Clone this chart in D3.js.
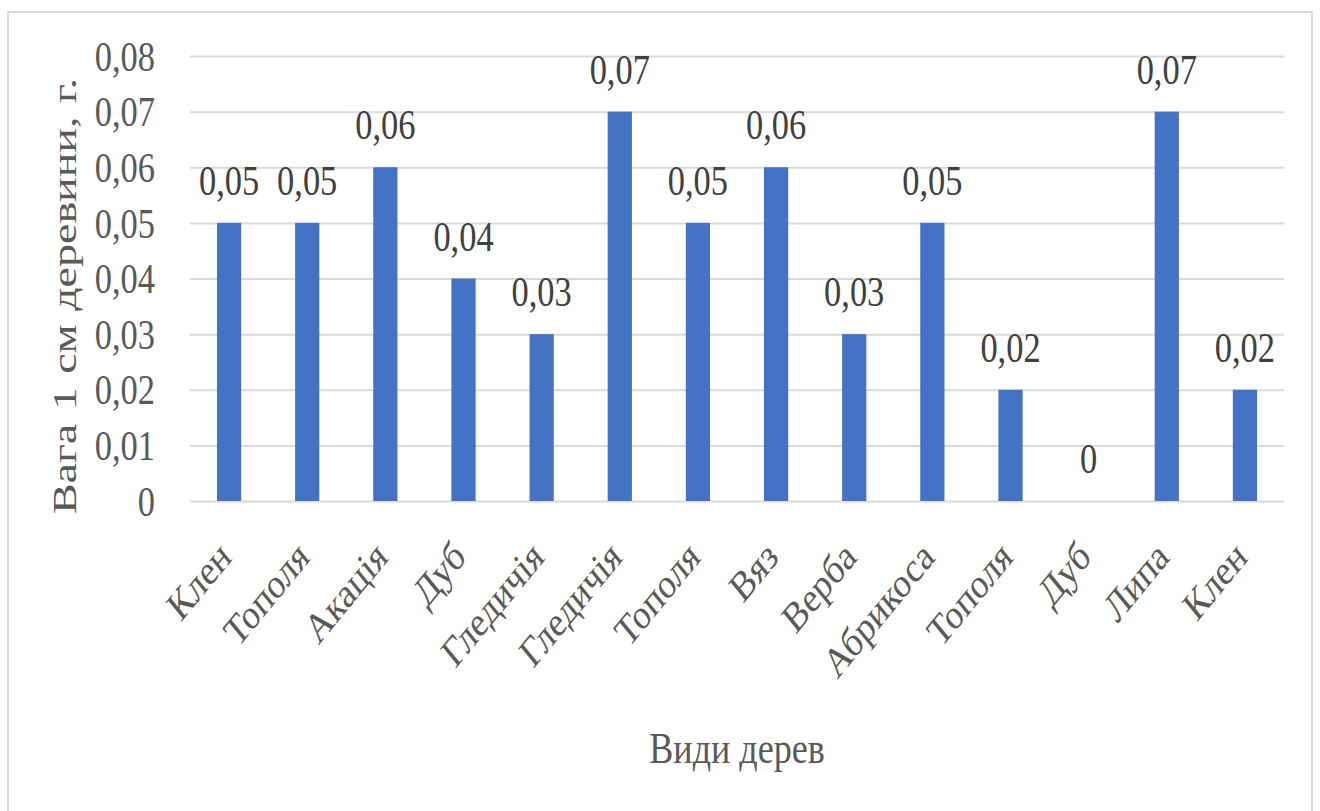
<!DOCTYPE html>
<html>
<head>
<meta charset="utf-8">
<script src="https://cdn.jsdelivr.net/npm/d3@7"></script>
<style>
  html, body { margin: 0; padding: 0; background: #fff; }
  svg { display: block; }
</style>
</head>
<body>
<svg id="chart" width="1320" height="811"></svg>
<script>
// Wood weight per 1 cm by tree species
const categories = ["Клен", "Тополя", "Акація", "Дуб", "Гледичія", "Гледичія", "Тополя",
                    "Вяз", "Верба", "Абрикоса", "Тополя", "Дуб", "Липа", "Клен"];
const values = [0.05, 0.05, 0.06, 0.04, 0.03, 0.07, 0.05, 0.06, 0.03, 0.05, 0.02, 0, 0.07, 0.02];
const yTicks = [0, 0.01, 0.02, 0.03, 0.04, 0.05, 0.06, 0.07, 0.08];
const yTitle = "Вага 1 см деревини, г.";
const xTitle = "Види дерев";

const W = 1320, H = 811;
const FONT = "'Liberation Serif', 'Times New Roman', Times, 'DejaVu Serif', serif";
const sx = 0.82; // narrow glyph width used for all labels
const margin = { left: 190, right: 36, top: 56, bottom: 310 };
const fmt = v => String(+v.toFixed(2)).replace(".", ",");

const svg = d3.select("#chart").style("font-family", FONT);

// chart frame
svg.append("rect")
  .attr("x", 8).attr("y", 12)
  .attr("width", 1304).attr("height", 820)
  .attr("fill", "#fff")
  .attr("stroke", "#d9d9d9").attr("stroke-width", 2);

const x = d3.scaleBand()
  .domain(d3.range(categories.length))
  .range([margin.left, W - margin.right])
  .paddingInner(0.69).paddingOuter(0.345);

const y = d3.scaleLinear()
  .domain([0, 0.08])
  .range([H - margin.bottom, margin.top]);

// gridlines and y tick labels
const yAxis = d3.axisLeft(y)
  .tickValues(yTicks)
  .tickSize(-(W - margin.right - margin.left))
  .tickPadding(0)
  .tickFormat(fmt);

const gy = svg.append("g")
  .attr("transform", `translate(${margin.left},0)`)
  .call(yAxis)
  .attr("font-family", FONT);
gy.select(".domain").remove();
gy.selectAll(".tick line").attr("stroke", "#d9d9d9").attr("stroke-width", 2);
gy.selectAll(".tick text")
  .attr("x", null).attr("dy", null)
  .attr("transform", "translate(-35,0) scale(" + sx + ",1)")
  .attr("dominant-baseline", "central")
  .attr("font-size", 42)
  .attr("fill", "#595959")
  .attr("text-anchor", "end");

// bars
svg.append("g").selectAll("rect")
  .data(values)
  .join("rect")
  .attr("x", (d, i) => x(i))
  .attr("width", x.bandwidth())
  .attr("y", d => y(d))
  .attr("height", d => y(0) - y(d))
  .attr("fill", "#4472c4");

// value labels
svg.append("g").selectAll("text")
  .data(values)
  .join("text")
  .attr("transform", (d, i) => `translate(${x(i) + x.bandwidth() / 2},${y(d) - 28}) scale(${sx},1)`)
  .attr("text-anchor", "middle")
  .attr("font-size", 42)
  .attr("fill", "#404040")
  .text(d => fmt(d));

// category labels
svg.append("g").selectAll("text")
  .data(categories)
  .join("text")
  .attr("transform", (d, i) => `translate(${x(i) + x.bandwidth() / 2 + 4},${y(0) + 58}) scale(${sx},1) rotate(-45)`)
  .attr("text-anchor", "end")
  .attr("font-size", 42)
  .attr("fill", "#595959")
  .text(d => d);

// axis titles
svg.append("text")
  .attr("transform", `translate(${(margin.left + W - margin.right) / 2},763) scale(${sx},1)`)
  .attr("text-anchor", "middle")
  .attr("font-size", 44)
  .attr("fill", "#595959")
  .text(xTitle);

svg.append("text")
  .attr("transform", `translate(76,296) scale(0.75,1) rotate(-90)`)
  .attr("text-anchor", "middle")
  .attr("font-size", 46)
  .attr("word-spacing", 2)
  .attr("fill", "#595959")
  .text(yTitle);
</script>
</body>
</html>
